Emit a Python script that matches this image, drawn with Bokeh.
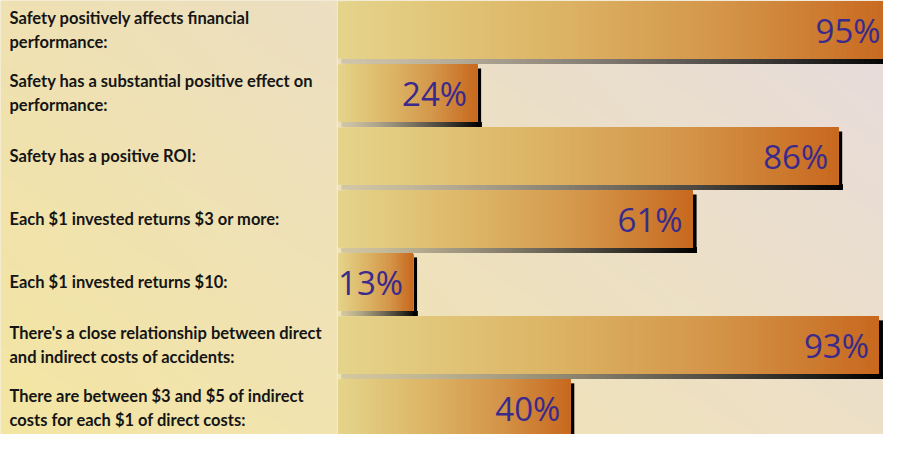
import numpy as np
from bokeh.plotting import figure
from bokeh.models import Range1d, ColumnDataSource, Span
from bokeh.core.properties import value
from bokeh.embed import file_html
from bokeh.resources import INLINE

# ---- data ----
labels = [
    "Safety positively affects financial\nperformance:",
    "Safety has a substantial positive effect on\nperformance:",
    "Safety has a positive ROI:",
    "Each $1 invested returns $3 or more:",
    "Each $1 invested returns $10:",
    "There's a close relationship between direct\nand indirect costs of accidents:",
    "There are between $3 and $5 of indirect\ncosts for each $1 of direct costs:",
]
values = [95, 24, 86, 61, 13, 93, 40]
value_labels = [f"{v}%" for v in values]

# ---- layout ----
W, H = 883, 434
X0, X1 = -57.84, 93.78          # percent units
Y_TOP, Y_BOT = -0.471, 6.42     # row units
pxu_x = W / (X1 - X0)
pxu_y = H / (Y_BOT - Y_TOP)
BAR_H = 0.911

p = figure(width=W, height=H, x_range=Range1d(X0, X1), y_range=Range1d(Y_BOT, Y_TOP),
           output_backend="svg", toolbar_location=None, min_border=0)
p.axis.visible = False
p.grid.visible = False
p.outline_line_color = None
p.background_fill_color = "#EFE2BC"
p.border_fill_color = "#EFE2BC"

# ---- background gradient ----
def hx(c):
    return np.array([int(c[i:i + 2], 16) for i in (1, 3, 5)], dtype=float)

TL, TR, BL, BR = hx("#EFE1B2"), hx("#E7DCDE"), hx("#F4E6A2"), hx("#EDE0C8")

def bg_at(uu, vv):
    return TL * (1 - uu) * (1 - vv) + TR * uu * (1 - vv) + BL * (1 - uu) * vv + BR * uu * vv

nx, ny = 300, 150
u = np.linspace(0, 1, nx)[None, :, None]
v = np.linspace(0, 1, ny)[:, None, None]   # 0 = top of screen
col = bg_at(u, v)
img = np.empty((ny, nx), dtype=np.uint32)
view = img.view(dtype=np.uint8).reshape((ny, nx, 4))
view[:, :, 0:3] = np.clip(col, 0, 255).astype(np.uint8)
view[:, :, 3] = 255
p.image_rgba(image=[img], x=X0, y=Y_TOP, dw=X1 - X0, dh=Y_BOT - Y_TOP)

# ---- gradient bars ----
stops_t = [0.0, 0.4, 0.7, 1.0]
stops_c = [hx("#E5D58B"), hx("#DDB465"), hx("#D49549"), hx("#C8691F")]

def to_hex(c):
    c = np.clip(c, 0, 255)
    return "#%02x%02x%02x" % (int(c[0]), int(c[1]), int(c[2]))

def grad(t):
    return to_hex(np.array([np.interp(t, stops_t, [c[j] for c in stops_c]) for j in range(3)]))

N = 90
dx4 = 4 / pxu_x
dy4 = 4 / pxu_y
dy5 = 5 / pxu_y
bar = dict(left=[], right=[], top=[], bottom=[], color=[])
sh = dict(left=[], right=[], top=[], bottom=[], color=[])
for i, val in enumerate(values):
    top, bot = i - BAR_H / 2, i + BAR_H / 2
    # shadow strip under the bar (opaque, blended with background)
    for k in range(N):
        t = (k + 0.5) / N
        xl = dx4 + val * k / N
        a = 0.12 + 0.88 * t ** 1.3
        uu = (xl - X0) / (X1 - X0)
        vv = (bot - Y_TOP) / (Y_BOT - Y_TOP)
        c = bg_at(uu, vv) * (1 - a)
        sh["left"].append(xl)
        sh["right"].append(val + dx4)
        sh["top"].append(bot)
        sh["bottom"].append(bot + dy5)
        sh["color"].append(to_hex(c))
    sh["left"].append(val)
    sh["right"].append(val + dx4)
    sh["top"].append(top + dy4)
    sh["bottom"].append(bot + dy5)
    sh["color"].append("#000000")
    for k in range(N):
        t = (k + 0.5) / N
        bar["left"].append(val * k / N)
        bar["right"].append(val)
        bar["top"].append(top)
        bar["bottom"].append(bot)
        bar["color"].append(grad(t))

p.quad(left="left", right="right", top="top", bottom="bottom", source=ColumnDataSource(sh),
       fill_color="color", line_color=None)
p.quad(left="left", right="right", top="top", bottom="bottom", source=ColumnDataSource(bar),
       fill_color="color", line_color=None)

p.add_layout(Span(location=0, dimension="height", line_color="#F8F1DC", line_width=1, line_alpha=0.8))

# ---- texts ----
src = ColumnDataSource(dict(y=list(range(len(values))), x=values, lab=labels, val=value_labels,
                            lx=[X0 + 9 / pxu_x] * len(values)))
p.text(x="lx", y="y", text="lab", source=src, text_align="left", text_baseline="middle",
       text_font=value("Lato"), text_font_style="bold", text_font_size="16.5px",
       text_color="#151515", text_line_height=1.2)
p.text(x="x", y="y", text="val", source=src, x_offset=-10, text_align="right", text_baseline="middle",
       text_font=value("Open Sans"), text_font_size="33px", text_color="#3A2A8C")

open("out.html", "w").write(file_html(p, INLINE))
